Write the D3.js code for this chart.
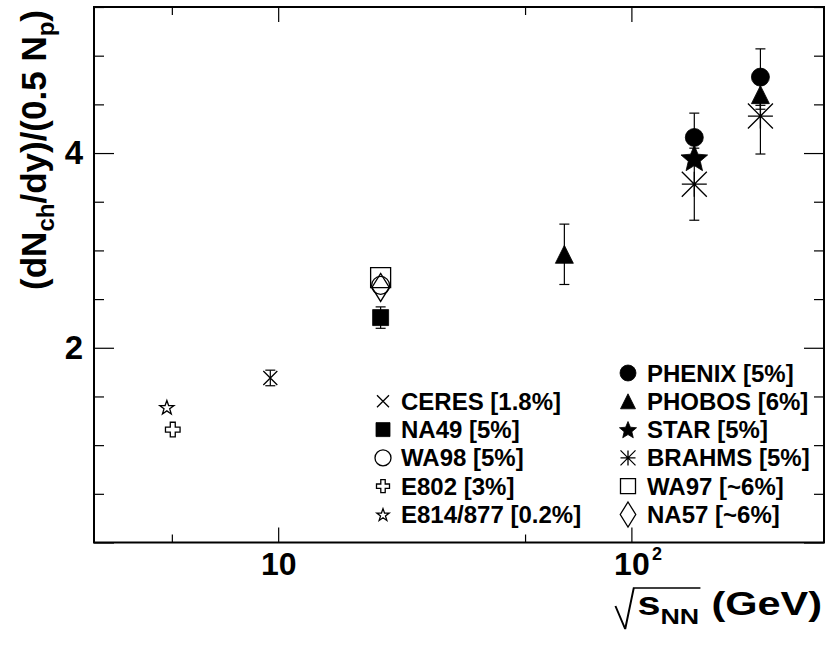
<!DOCTYPE html>
<html>
<head>
<meta charset="utf-8">
<script src="https://cdn.jsdelivr.net/npm/d3@7"></script>
<style>
  body { margin: 0; background: #fff; }
  text { font-family: "Liberation Sans", Arial, Helvetica, sans-serif; font-weight: bold; fill: #000; }
</style>
</head>
<body>
<svg id="chart" width="840" height="651"></svg>
<script>
// Charged-particle pseudo-rapidity density per participant pair vs collision energy
const phenix = [{x: 150.7, y: 4.16, err: 0.25}, {x: 231.9, y: 4.78, err: 0.29}];
const phobos = [{x: 64.6, y: 2.96, err: 0.31}, {x: 231.9, y: 4.60, err: 0.15}];
const star   = [{x: 150.7, y: 3.95, err: 0}];
const brahms = [{x: 150.7, y: 3.68, err: 0.37}, {x: 231.9, y: 4.38, err: 0.39}];
const wa97   = [{x: 19.5, y: 2.72, err: 0}];
const na57   = [{x: 19.5, y: 2.62, err: 0}];
const wa98   = [{x: 19.5, y: 2.64, err: 0}];
const na49   = [{x: 19.5, y: 2.31, err: 0.11}];
const ceres  = [{x: 9.5,  y: 1.69, err: 0.08}];
const e802   = [{x: 5.03, y: 1.16, err: 0}];
const e814   = [{x: 4.84, y: 1.39, err: 0}];

const legendLeft  = ["CERES [1.8%]", "NA49 [5%]", "WA98 [5%]", "E802 [3%]", "E814/877 [0.2%]"];
const legendRight = ["PHENIX [5%]", "PHOBOS [6%]", "STAR [5%]", "BRAHMS [5%]", "WA97 [~6%]", "NA57 [~6%]"];

const xMajorTicks = [10, 100];
const xMinorTicks = [5, 50];
const yMajorTicks = [0, 2, 4];
const yMinorTicks = [0.5, 1, 1.5, 2.5, 3, 3.5, 4.5, 5, 5.5];

const frame = {left: 94, right: 824, top: 7, bottom: 542.5};

const svg = d3.select("#chart");
const x = d3.scaleLog().domain([3.01, 351]).range([frame.left, frame.right]);
const y = d3.scaleLinear().domain([0, 5.5]).range([frame.bottom, frame.top]);

// ---- marker shapes ----
function starPath(R, ratio) {
  const pts = [];
  for (let i = 0; i < 10; i++) {
    const r = i % 2 === 0 ? R : R * ratio;
    const a = -Math.PI / 2 + i * Math.PI / 5;
    pts.push([r * Math.cos(a), r * Math.sin(a) + R * 0.1]);
  }
  return "M" + pts.map(p => p[0].toFixed(2) + "," + p[1].toFixed(2)).join("L") + "Z";
}
function shapePath(shape, s) {
  switch (shape) {
    case "circle":
      return `M${-s},0A${s},${s} 0 1,0 ${s},0A${s},${s} 0 1,0 ${-s},0Z`;
    case "square":
      return `M${-s},${-s}H${s}V${s}H${-s}Z`;
    case "triangle":
      return `M0,${-s}L${s},${s}L${-s},${s}Z`;
    case "star":
      return starPath(s, 0.45);
    case "ostar":
      return starPath(s, 0.4);
    case "asterisk":
      return `M${-s},0H${s}M0,${-s}V${s}M${-s},${-s}L${s},${s}M${-s},${s}L${s},${-s}`;
    case "diamond":
      return `M0,${-s}L${s * 0.62},0L0,${s}L${-s * 0.62},0Z`;
    case "cross": {
      const a = s * 0.34;
      return `M${-a},${-s}H${a}V${-a}H${s}V${a}H${a}V${s}H${-a}V${a}H${-s}V${-a}H${-a}Z`;
    }
    case "x":
      return `M${-s},${-s}L${s},${s}M${-s},${s}L${s},${-s}`;
  }
}

// drawing style per experiment
const seriesList = [
  {data: e814,   shape: "ostar",    filled: false, size: 7.5},
  {data: e802,   shape: "cross",    filled: false, size: 7.3},
  {data: ceres,  shape: "x",        filled: false, size: 7},
  {data: na49,   shape: "square",   filled: true,  size: 8},
  {data: wa97,   shape: "square",   filled: false, size: 10},
  {data: wa98,   shape: "circle",   filled: false, size: 9},
  {data: na57,   shape: "diamond",  filled: false, size: 14},
  {data: brahms, shape: "asterisk", filled: false, size: 12.5},
  {data: star,   shape: "star",     filled: true,  size: 14},
  {data: phobos, shape: "triangle", filled: true,  size: 9},
  {data: phenix, shape: "circle",   filled: true,  size: 9}
];

// ---- axes (ticks point inward) ----
const axes = svg.append("g");
function tickAxis(gen, values, size, tx, ty) {
  const g = axes.append("g").attr("transform", `translate(${tx},${ty})`)
    .call(gen.tickValues(values).tickSizeInner(size).tickSizeOuter(0).tickFormat(""));
  g.select(".domain").remove();
  g.selectAll(".tick line").attr("stroke", "#000").attr("stroke-width", 1.2);
  return g;
}
// bottom
const xb = axes.append("g").attr("transform", `translate(0,${frame.bottom})`)
  .call(d3.axisBottom(x).tickValues(xMajorTicks).tickSizeInner(-15).tickSizeOuter(0)
    .tickPadding(10).tickFormat(() => "10"));
xb.select(".domain").remove();
xb.selectAll(".tick line").attr("stroke", "#000").attr("stroke-width", 1.2);
xb.selectAll(".tick text").attr("font-size", 32).attr("font-family", null).attr("fill", "#000");
xb.selectAll(".tick").filter(d => d === 100).append("text")
  .attr("x", 20).attr("y", 17).attr("text-anchor", "start")
  .attr("font-size", 18).attr("fill", "#000").text("2");
tickAxis(d3.axisBottom(x), xMinorTicks, -8, 0, frame.bottom);
// top
tickAxis(d3.axisTop(x), xMajorTicks, -15, 0, frame.top);
tickAxis(d3.axisTop(x), xMinorTicks, -8, 0, frame.top);
// left
const yl = axes.append("g").attr("transform", `translate(${frame.left},0)`)
  .call(d3.axisLeft(y).tickValues(yMajorTicks).tickSizeInner(-20).tickSizeOuter(0)
    .tickPadding(11).tickFormat(d => d === 0 ? "" : d3.format("d")(d)));
yl.select(".domain").remove();
yl.selectAll(".tick line").attr("stroke", "#000").attr("stroke-width", 1.2);
yl.selectAll(".tick text").attr("font-size", 33).attr("font-family", null).attr("fill", "#000");
tickAxis(d3.axisLeft(y), yMinorTicks, -10, frame.left, 0);
// right
tickAxis(d3.axisRight(y), yMajorTicks, -20, frame.right, 0);
tickAxis(d3.axisRight(y), yMinorTicks, -10, frame.right, 0);

// frame
svg.append("rect")
  .attr("x", frame.left).attr("y", frame.top)
  .attr("width", frame.right - frame.left).attr("height", frame.bottom - frame.top)
  .attr("fill", "none").attr("stroke", "#000").attr("stroke-width", 2);

// ---- error bars ----
const errG = svg.append("g").attr("stroke", "#000").attr("stroke-width", 1.2);
seriesList.forEach(s => {
  s.data.filter(d => d.err > 0).forEach(d => {
    const cx = x(d.x), y0 = y(d.y - d.err), y1 = y(d.y + d.err);
    errG.append("line").attr("x1", cx).attr("x2", cx).attr("y1", y0).attr("y2", y1);
    errG.append("line").attr("x1", cx - 5).attr("x2", cx + 5).attr("y1", y0).attr("y2", y0);
    errG.append("line").attr("x1", cx - 5).attr("x2", cx + 5).attr("y1", y1).attr("y2", y1);
  });
});

// ---- markers ----
function styleMarker(sel, filled) {
  sel.attr("fill", filled ? "#000" : "none")
     .attr("stroke", "#000")
     .attr("stroke-width", filled ? 0.8 : 1.3)
     .attr("stroke-linejoin", "miter");
}
const markG = svg.append("g");
seriesList.forEach(s => {
  markG.selectAll(null).data(s.data).enter().append("path")
    .attr("d", shapePath(s.shape, s.size))
    .attr("transform", d => `translate(${x(d.x)},${y(d.y)})`)
    .call(styleMarker, s.filled);
});

// ---- legend ----
const legLeftStyle = [
  {shape: "x", filled: false, size: 6},
  {shape: "square", filled: true, size: 7},
  {shape: "circle", filled: false, size: 8},
  {shape: "cross", filled: false, size: 6.5},
  {shape: "ostar", filled: false, size: 6.5}
];
const legRightStyle = [
  {shape: "circle", filled: true, size: 8},
  {shape: "triangle", filled: true, size: 7.5},
  {shape: "star", filled: true, size: 9},
  {shape: "asterisk", filled: false, size: 7.5},
  {shape: "square", filled: false, size: 7.5},
  {shape: "diamond", filled: false, size: 12.5}
];
const rowY = i => 373 + i * 28.3;
const leg = svg.append("g");
legendRight.forEach((label, i) => {
  const st = legRightStyle[i];
  leg.append("path").attr("d", shapePath(st.shape, st.size))
    .attr("transform", `translate(628,${rowY(i)})`).call(styleMarker, st.filled);
  leg.append("text").attr("x", 647).attr("y", rowY(i) + 8.5).attr("font-size", 24).text(label);
});
legendLeft.forEach((label, i) => {
  const st = legLeftStyle[i];
  leg.append("path").attr("d", shapePath(st.shape, st.size))
    .attr("transform", `translate(383,${rowY(i + 1)})`).call(styleMarker, st.filled);
  leg.append("text").attr("x", 401).attr("y", rowY(i + 1) + 8.5).attr("font-size", 24).text(label);
});

// ---- y title ----
const yt = svg.append("text")
  .attr("transform", "translate(46,10) rotate(-90)")
  .attr("text-anchor", "end").attr("font-size", 35);
yt.append("tspan").text("(dN");
yt.append("tspan").attr("font-size", 24).attr("dy", 8).text("ch");
yt.append("tspan").attr("dy", -8).text("/dy)/(0.5 N");
yt.append("tspan").attr("font-size", 24).attr("dy", 8).text("p");
yt.append("tspan").attr("dy", -8).text(")");

// ---- x title: sqrt(s_NN) (GeV), widened horizontally, right edge at 822 ----
const base = 615;
const xt = svg.append("g").attr("transform", "translate(822,0) scale(1.22,1) translate(-822,0)");
const gev = xt.append("text").attr("y", base).attr("font-size", 34).text("(GeV)");
const gevW = gev.node().getComputedTextLength();
const gevX = 822 - gevW;
gev.attr("x", gevX);
const nn = xt.append("text").attr("y", base + 9).attr("font-size", 22).text("NN");
const nnW = nn.node().getComputedTextLength();
const nnX = gevX - 10 - nnW;
nn.attr("x", nnX);
const sT = xt.append("text").attr("y", base).attr("font-size", 34).text("s");
const sW = sT.node().getComputedTextLength();
const sX = nnX - sW;
sT.attr("x", sX);
xt.append("path")
  .attr("d", `M${sX - 18},${base - 9} L${sX - 10},${base + 14} L${sX - 3},${base - 27} H${nnX + nnW + 1}`)
  .attr("fill", "none").attr("stroke", "#000").attr("stroke-width", 1.6);
</script>
</body>
</html>
